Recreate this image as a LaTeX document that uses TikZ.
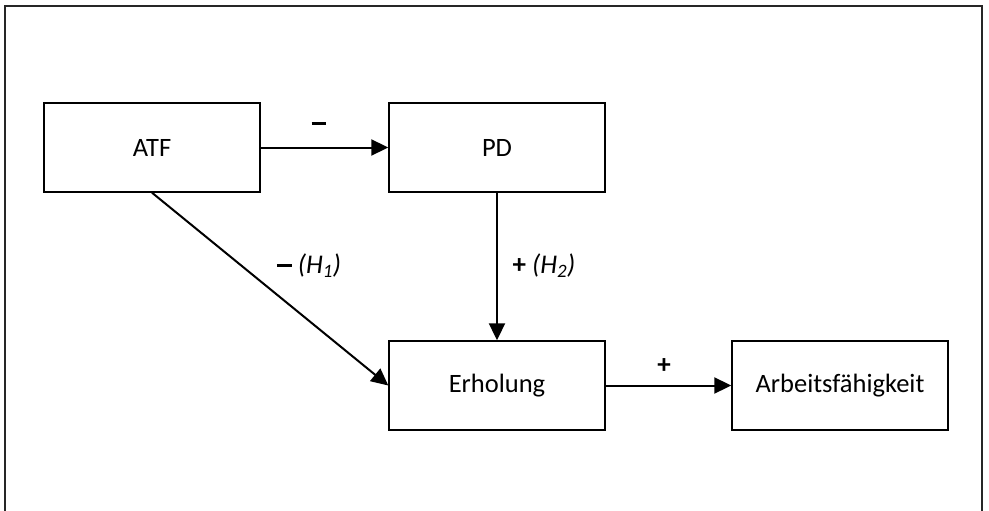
\documentclass[tikz,border=0pt]{standalone}
\usepackage{fontspec}
\setmainfont{Carlito}
\usetikzlibrary{arrows.meta}
\newcommand{\bdash}{\rule[0.26em]{0.55em}{0.11em}}
\begin{document}
\begin{tikzpicture}[x=1pt,y=-1pt,
  box/.style={draw=black, line width=1.4pt, minimum width=216pt, minimum height=89pt, inner sep=0pt, font=\fontsize{26.5}{30}\selectfont},
  conn/.style={line width=2pt, -{Triangle[length=17pt,width=16pt]}},
  lbl/.style={font=\fontsize{27}{31}\selectfont, inner sep=0pt}]
\useasboundingbox (0,0) rectangle (989,511);
\clip (0,0) rectangle (989,511);
\draw[line width=2pt, draw=black!85] (5,6) rectangle (982,530);
\node[box] (atf) at (152,147.5) {ATF};
\node[box] (pd) at (497,147.5) {PD};
\node[box] (erh) at (497,385.5) {Erholung};
\node[box] (af) at (840,385.5) {Arbeitsfähigkeit};
\draw[conn] (atf) -- (pd);
\draw[conn] (pd) -- (erh);
\draw[conn] (erh) -- (af);
\draw[conn] (atf.south) -- (erh.west);
\node[lbl] (l1) at (319,127) {\bdash};
\node[lbl] (l2) at (309,266) {\bdash{} \textit{(H\textsubscript{1})}};
\node[lbl] (l3) at (544,266) {\textbf{+} \textit{(H\textsubscript{2})}};
\node[lbl] (l4) at (664,366) {\textbf{+}};
\end{tikzpicture}
\end{document}
